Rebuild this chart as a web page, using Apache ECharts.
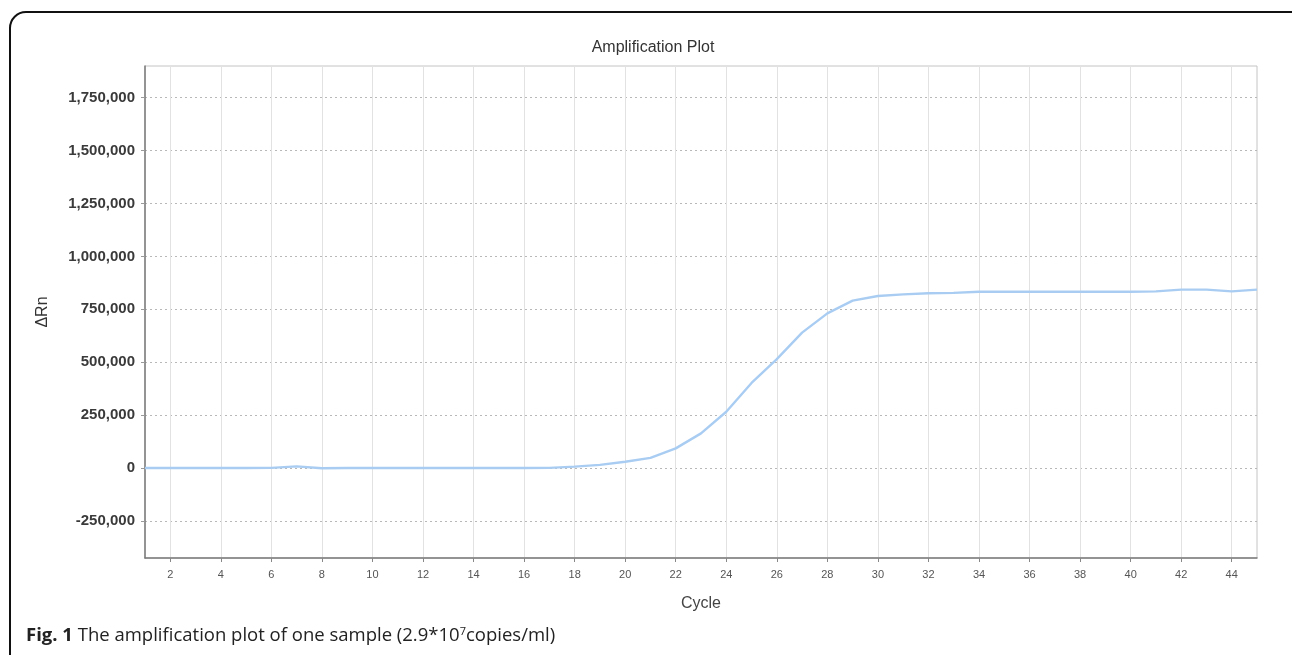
<!DOCTYPE html>
<html>
<head>
<meta charset="utf-8">
<script src="https://cdn.jsdelivr.net/npm/echarts@6/dist/echarts.min.js"></script>
<style>
	html, body { margin: 0; padding: 0; background: #fff; }
	#main { width: 1292px; height: 655px; }
</style>
</head>
<body>
<div id="main"></div>
<script>
// cycle numbers and delta Rn
var cycles = [1, 2, 3, 4, 5, 6, 7, 8, 9, 10, 11, 12, 13, 14, 15, 16, 17, 18, 19, 20, 21, 22, 23,
	24, 25, 26, 27, 28, 29, 30, 31, 32, 33, 34, 35, 36, 37, 38, 39, 40, 41, 42, 43, 44, 45];
var deltaRn = [0, 0, 0, 0, 0, 1000, 8000, -1000, 0, 0, 0, 0, 0, 0, 0, 0, 1000, 7000, 15000, 30000,
	48000, 93000, 164000, 266000, 402000, 515000, 640000, 731000, 791000, 813000, 821000, 826000,
	828000, 833000, 833000, 833000, 833000, 833000, 833000, 833000, 835000, 843000, 843000, 835000, 843000];

var xTicks = [2, 4, 6, 8, 10, 12, 14, 16, 18, 20, 22, 24, 26, 28, 30, 32, 34, 36, 38, 40, 42, 44];
var yTicks = [-250000, 0, 250000, 500000, 750000, 1000000, 1250000, 1500000, 1750000];

var chart;
var option;

chart = echarts.init(document.getElementById('main'));

var data = [];
for (var i = 0; i < cycles.length; i++) {
	data.push([cycles[i], deltaRn[i]]);
}

option = {
	backgroundColor : '#fff',
	animation : false,
	title : {
		text : 'Amplification Plot',
		left : 648,
		top : 35,
		textAlign : 'center',
		textStyle : {
			fontFamily : 'Liberation Sans',
			fontSize : 16,
			fontWeight : 'normal',
			color : '#333'
		}
	},
	grid : {
		left : 145,
		right : 35,
		top : 66,
		bottom : 97,
		show : true,
		borderColor : '#c4c4c4',
		borderWidth : 1
	},
	xAxis : {
		type : 'value',
		min : 1,
		max : 45,
		name : 'Cycle',
		nameLocation : 'middle',
		nameGap : 38,
		nameTextStyle : {
			fontFamily : 'Liberation Sans',
			fontSize : 16,
			color : '#444'
		},
		axisLine : { onZero : false, lineStyle : { color : '#7a7a7a', width : 1.5 } },
		axisTick : {
			customValues : xTicks,
			length : 4,
			lineStyle : { color : '#888' }
		},
		axisLabel : {
			customValues : xTicks,
			margin : 11,
			fontFamily : 'Liberation Sans',
			fontSize : 11,
			color : '#555'
		},
		splitLine : {
			show : true,
			lineStyle : { color : '#e2e2e2', width : 1 }
		}
	},
	yAxis : {
		type : 'value',
		min : -425000,
		max : 1900000,
		name : 'ΔRn',
		nameLocation : 'middle',
		nameGap : 94,
		nameRotate : 90,
		nameTextStyle : {
			fontFamily : 'Liberation Sans',
			fontSize : 16,
			color : '#333'
		},
		axisLine : { show : true, onZero : false, lineStyle : { color : '#7a7a7a', width : 1.5 } },
		axisTick : {
			show : true,
			customValues : yTicks,
			length : 4,
			lineStyle : { color : '#999' }
		},
		axisLabel : {
			customValues : yTicks,
			margin : 10,
			fontFamily : 'Liberation Sans',
			fontSize : 15,
			fontWeight : 'bold',
			color : '#3a3a3a',
			formatter : function (v) { return v.toLocaleString('en-US'); }
		},
		splitLine : {
			show : true,
			lineStyle : { color : '#b8b8b8', type : [2, 3], width : 1 }
		}
	},
	graphic : [
		{
			type : 'rect',
			shape : { x : 10, y : 12, width : 1300, height : 680, r : 16 },
			style : { fill : null, stroke : '#111', lineWidth : 2 },
			silent : true
		},
		{
			type : 'text',
			left : 26,
			top : 626,
			style : {
				text : '{b|Fig. 1} The amplification plot of one sample (2.9*10{s|7}copies/ml)',
				rich : {
					b : { fontFamily : 'Open Sans', fontSize : 18.5, fontWeight : 'bold', fill : '#222' },
					s : { fontFamily : 'Open Sans', fontSize : 11, fill : '#222', verticalAlign : 'top', padding : [0, 0, 8, 0] }
				},
				fontFamily : 'Open Sans',
				fontSize : 18.5,
				fill : '#222'
			}
		}
	],
	series : [ {
		name : 'ΔRn',
		type : 'line',
		data : data,
		showSymbol : false,
		smooth : false,
		lineStyle : { color : '#a9cdf2', width : 2.4 },
		itemStyle : { color : '#a9cdf2' }
	} ]
};
chart.setOption(option);
</script>
</body>
</html>
